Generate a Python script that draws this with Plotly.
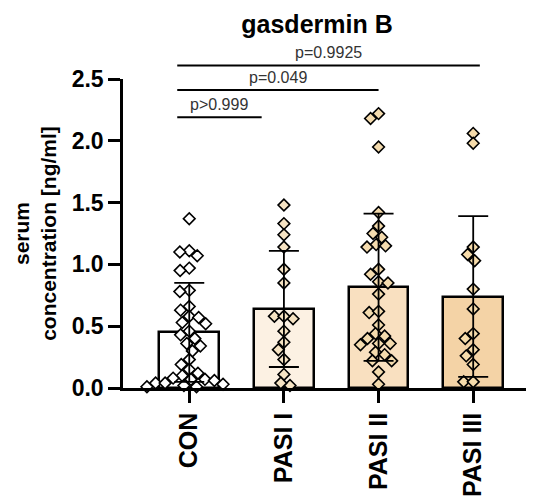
import numpy as np
import plotly.graph_objects as go

# ---------------- data ----------------
groups = ["CON", "PASI I", "PASI II", "PASI III"]

con_vals = [1.37, 1.11, 1.10, 1.07, 0.97, 0.95, 0.79, 0.78, 0.66, 0.63, 0.58, 0.57,
            0.53, 0.52, 0.46, 0.43, 0.40, 0.36, 0.34, 0.30, 0.23, 0.19, 0.15, 0.12,
            0.10, 0.07, 0.07, 0.08, 0.06, 0.04, 0.03, 0.02, 0.01, 0.01, 0.04]
pasi1_vals = [1.48, 1.33, 1.24, 1.14, 0.96, 0.85, 0.58, 0.56, 0.58, 0.46, 0.37,
              0.31, 0.23, 0.11, 0.02, 0.04]
pasi2_vals = [2.22, 2.18, 1.95, 1.42, 1.31, 1.25, 1.22, 1.16, 1.14, 1.15, 0.96, 0.92,
              0.86, 0.85, 0.76, 0.61, 0.62, 0.51, 0.42, 0.40, 0.44, 0.35, 0.36, 0.36,
              0.27, 0.29, 0.22, 0.22, 0.13, 0.03]
pasi3_vals = [2.06, 1.98, 1.14, 1.08, 1.03, 0.80, 0.64, 0.40, 0.44, 0.31, 0.26,
              0.19, 0.05, 0.05]

means = [0.45, 0.64, 0.815, 0.74]
sds = [0.40, 0.47, 0.595, 0.65]

comparisons = [  # (label, start group index, end group index)
    ("p>0.999", 0, 1),
    ("p=0.049", 0, 2),
    ("p=0.9925", 0, 3),
]
comparison_levels = [2.19, 2.41, 2.61]

yticks = [0.0, 0.5, 1.0, 1.5, 2.0, 2.5]

# ---------------- styling ----------------
bar_fills = ["#FFFFFF", "#FCF1E3", "#F9E0C0", "#F4D3A6"]
pt_fills = ["#FFFFFF", "#F6E3C3", "#F4DBAE", "#F7DCAB"]
FONT = "Arial, 'Liberation Sans', Helvetica, sans-serif"

W, H = 534, 501
ML, MR, MT, MB = 115, 12, 71, 109
XR = [-0.7, 3.6]
YR = [0, 2.5]
plot_w = W - ML - MR
plot_h = H - MT - MB
px_per_x = plot_w / (XR[1] - XR[0])
px_per_y = plot_h / (YR[1] - YR[0])


def swarm(values, diam=9.5):
    """Simple beeswarm: returns x offsets (in category units)."""
    order = np.argsort(values)[::-1]
    placed = []  # (ypix, xpix)
    offs = np.zeros(len(values))
    for i in order:
        y = values[i] * px_per_y
        cands = [0.0]
        for (py, pxx) in placed:
            dy = abs(py - y)
            if dy < diam:
                dx = np.sqrt(diam ** 2 - dy ** 2)
                cands += [pxx + dx, pxx - dx]
        cands = sorted(cands, key=lambda c: (abs(c), c))
        for c in cands:
            ok = all((py - y) ** 2 + (pxx - c) ** 2 >= diam ** 2 - 1e-6 for (py, pxx) in placed)
            if ok:
                offs[i] = c
                placed.append((y, c))
                break
    return offs / px_per_x


fig = go.Figure()

xpos = list(range(len(groups)))
fig.add_trace(go.Bar(
    x=xpos, y=means, width=0.63,
    marker=dict(color=bar_fills, line=dict(color="black", width=2.5)),
    showlegend=False, hoverinfo="skip",
))

all_vals = [con_vals, pasi1_vals, pasi2_vals, pasi3_vals]
for gi, vals in enumerate(all_vals):
    vals = np.array(vals)
    xs = gi + swarm(vals)
    fig.add_trace(go.Scatter(
        x=xs, y=vals, mode="markers",
        marker=dict(symbol="diamond", size=9, color=pt_fills[gi],
                    line=dict(color="black", width=1.6)),
        showlegend=False, cliponaxis=False,
    ))

fig.add_trace(go.Scatter(
    x=xpos, y=means, mode="markers",
    marker=dict(size=1, color="rgba(0,0,0,0)"),
    error_y=dict(type="data", array=sds, color="black", thickness=1.8, width=15),
    showlegend=False, hoverinfo="skip",
))

# significance brackets
for (label, a, b), lvl in zip(comparisons, comparison_levels):
    x0 = a - 0.127
    x1 = b + (0.07 if b == 3 else (0.0 if b == 2 else -0.235))
    yp = (lvl - YR[0]) / (YR[1] - YR[0])
    fig.add_shape(type="line", xref="x", yref="paper", x0=x0, x1=x1, y0=yp, y1=yp,
                  line=dict(color="black", width=2))
    fig.add_annotation(text=label, xref="x", yref="paper", x=(x0 + x1) / 2,
                       y=yp + 13 / plot_h, yanchor="middle", showarrow=False,
                       font=dict(family=FONT, size=16, color="#333333"))

fig.update_layout(
    width=W, height=H,
    margin=dict(l=ML, r=MR, t=MT, b=MB),
    plot_bgcolor="white", paper_bgcolor="white",
    title=dict(text="gasdermin B", x=309 / W, xanchor="center", y=1 - 16 / H,
               yanchor="middle", xref="container", yref="container",
               font=dict(family=FONT, size=25, color="black", weight="bold")),
    xaxis=dict(range=XR, tickvals=xpos, ticktext=groups, tickangle=-90,
               showline=True, linecolor="black", linewidth=2.5, ticks="outside",
               ticklen=12, tickwidth=2.5, tickcolor="black", showgrid=False,
               zeroline=False,
               tickfont=dict(family=FONT, size=25, color="black", weight="bold")),
    yaxis=dict(range=YR, tickvals=yticks, tickformat=".1f", showline=True,
               linecolor="black", linewidth=2.5, ticks="outside", ticklen=12,
               tickwidth=2.5, tickcolor="black", showgrid=False, zeroline=False,
               tickfont=dict(family=FONT, size=23, color="black", weight="bold"),
               title=dict(text="serum<br>concentration [ng/ml]", standoff=10,
                          font=dict(family=FONT, size=21, color="black", weight="bold"))),
    bargap=0,
)

fig.write_html("out.html")
